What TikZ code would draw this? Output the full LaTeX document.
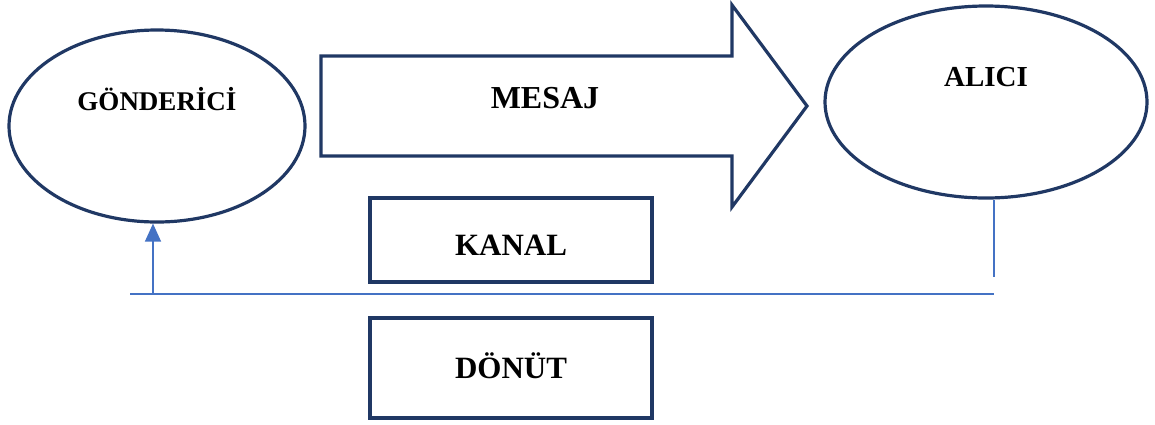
\documentclass[tikz,border=0pt]{standalone}
\usepackage{fontspec}
\setmainfont{Liberation Serif}
\usetikzlibrary{shapes.geometric,arrows.meta}
\definecolor{dkblue}{HTML}{203864}
\definecolor{lnblue}{HTML}{4472C4}
\begin{document}
\begin{tikzpicture}[x=1pt,y=-1pt,
  shapeline/.style={draw=dkblue,line width=3.2pt},
  ell/.style={shapeline,ellipse,inner sep=0pt},
  boxnode/.style={shapeline,rectangle,inner sep=0pt,minimum width=282pt,minimum height=84pt},
  lbl/.style={font=\bfseries,text=black,inner sep=0pt},
  conn/.style={draw=lnblue,line width=1.4pt}]
\useasboundingbox (0,0) rectangle (1155,424);
% ellipses
\node[ell,minimum width=296pt,minimum height=192pt] (gond) at (157,126) {};
\node[lbl,font=\bfseries\fontsize{27}{30}\selectfont] (gondt) at (157,99) {GÖNDERİCİ};
\node[ell,minimum width=322pt,minimum height=192pt] (alici) at (986,102) {};
\node[lbl,font=\bfseries\fontsize{29}{32}\selectfont] (alicit) at (986,77) {ALICI};
% message arrow
\draw[shapeline,line join=miter] (321,56) -- (732,56) -- (732,5) -- (807,106) -- (732,207) -- (732,156) -- (321,156) -- cycle;
\node[lbl,font=\bfseries\fontsize{32}{35}\selectfont] (mesaj) at (545,98) {MESAJ};
% boxes
\node[boxnode] (kanal) at (511,240) {};
\node[lbl,font=\bfseries\fontsize{31}{34}\selectfont] (kanalt) at (511,245) {KANAL};
\node[boxnode,minimum height=100pt] (donut) at (511,368) {};
\node[lbl,font=\bfseries\fontsize{31}{34}\selectfont] (donutt) at (511,366) {DÖNÜT};
% connectors
\coordinate (vend) at (994,277);
\coordinate (hR) at (994,294);
\coordinate (hL) at (130,294);
\coordinate (aS) at (153,294);
\draw[conn] (alici.south -| vend) -- (vend);
\draw[conn] (hL) -- (hR);
\draw[conn,-{Triangle[width=16pt,length=18pt]},fill=lnblue] (aS) -- (aS |- gond.south);
\end{tikzpicture}
\end{document}
